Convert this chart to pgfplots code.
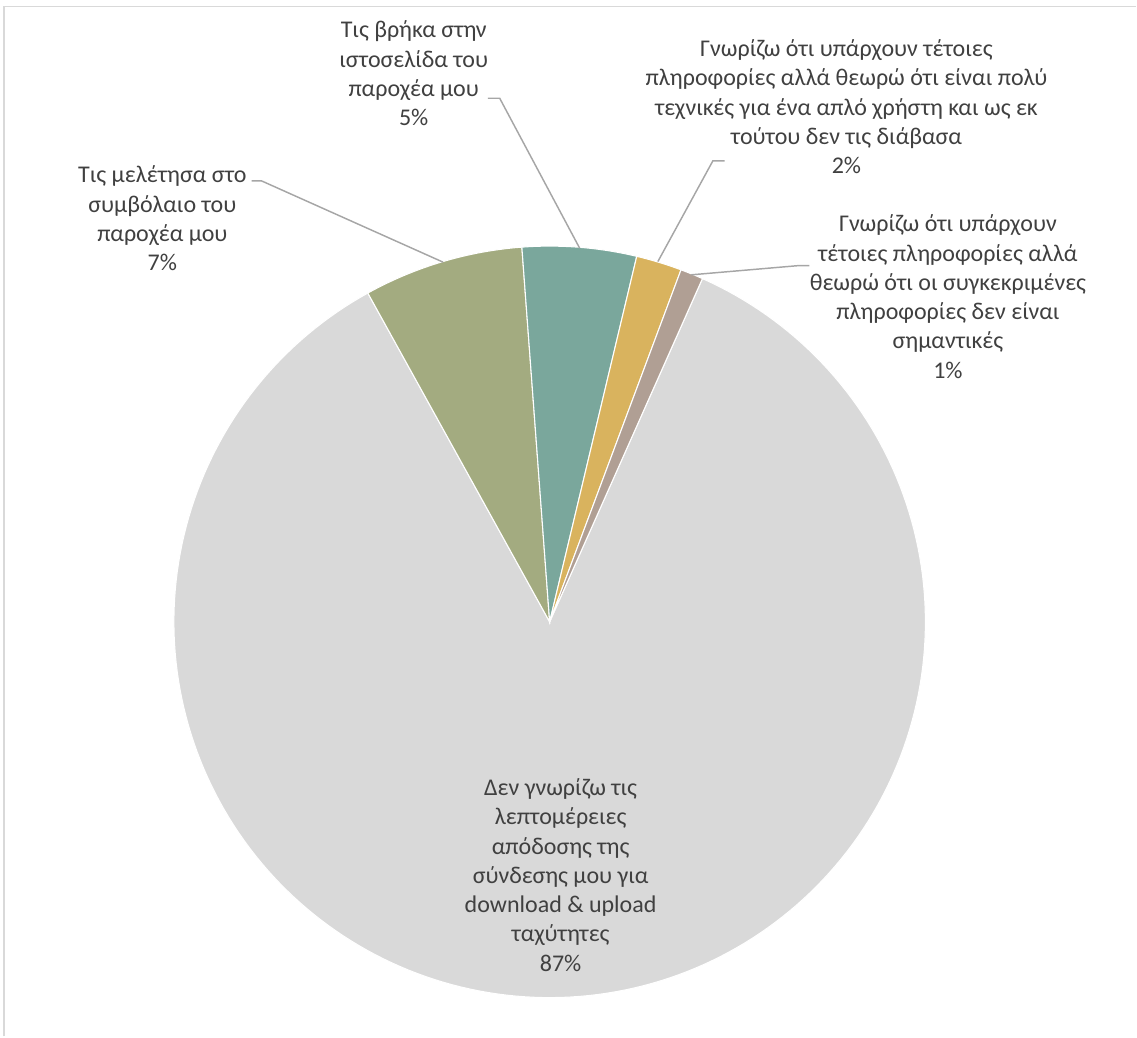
\documentclass[border=0pt]{standalone}
\usepackage{pgfplots}
\pgfplotsset{compat=1.18}
\usepackage{fontspec}
\setmainfont{Carlito}
\definecolor{cGray}{HTML}{D9D9D9}
\definecolor{cOlive}{HTML}{A3AB80}
\definecolor{cTeal}{HTML}{7AA79C}
\definecolor{cYellow}{HTML}{D9B35E}
\definecolor{cBrown}{HTML}{B09F94}
\definecolor{txt}{HTML}{404040}
\definecolor{lead}{HTML}{A6A6A6}
\definecolor{frame}{HTML}{D9D9D9}
\tikzset{lbl/.style={anchor=base, inner sep=0pt, text=txt, font=\fontsize{18}{22}\selectfont}}
% data (percent values as shown in the labels)
\def\vGray{87}\def\vOlive{7}\def\vTeal{5}\def\vYellow{2}\def\vBrown{1}
\pgfmathsetmacro\tot{\vGray+\vOlive+\vTeal+\vYellow+\vBrown}
\pgfmathsetmacro\aA{66}
\pgfmathsetmacro\aB{\aA-\vGray/\tot*360}
\pgfmathsetmacro\aC{\aB-\vOlive/\tot*360}
\pgfmathsetmacro\aD{\aC-\vTeal/\tot*360}
\pgfmathsetmacro\aE{\aD-\vYellow/\tot*360}
\pgfmathsetmacro\aF{\aE-\vBrown/\tot*360}
\def\cx{550}\def\cy{622.25}\def\rr{376}
\begin{document}
\begin{tikzpicture}
\begin{axis}[hide axis, scale only axis, width=852.75pt, height=777.75pt,
  xmin=0, xmax=1137, ymin=0, ymax=1037, y dir=reverse, clip=false]
\path (rel axis cs:0,0) rectangle (rel axis cs:1,1);
% frame
\addplot[frame, line width=1.1pt] coordinates {(4,1037) (4,6.7) (1137,6.7)};
% wedges
\addplot[fill=cGray, draw=white, line width=0.8pt, domain=\aB:\aA, samples=220, variable=\t]
  ({\cx+\rr*cos(\t)},{\cy-\rr*sin(\t)}) -- (axis cs:\cx,\cy) -- cycle;
\addplot[fill=cOlive, draw=white, line width=0.8pt, domain=\aC:\aB, samples=30, variable=\t]
  ({\cx+\rr*cos(\t)},{\cy-\rr*sin(\t)}) -- (axis cs:\cx,\cy) -- cycle;
\addplot[fill=cTeal, draw=white, line width=0.8pt, domain=\aD:\aC, samples=25, variable=\t]
  ({\cx+\rr*cos(\t)},{\cy-\rr*sin(\t)}) -- (axis cs:\cx,\cy) -- cycle;
\addplot[fill=cYellow, draw=white, line width=0.8pt, domain=\aE:\aD, samples=12, variable=\t]
  ({\cx+\rr*cos(\t)},{\cy-\rr*sin(\t)}) -- (axis cs:\cx,\cy) -- cycle;
\addplot[fill=cBrown, draw=white, line width=0.8pt, domain=\aF:\aE, samples=8, variable=\t]
  ({\cx+\rr*cos(\t)},{\cy-\rr*sin(\t)}) -- (axis cs:\cx,\cy) -- cycle;
% leader lines
\addplot[lead, line width=1.1pt] coordinates {(488.3,98.3) (500,98.3) (580,248.3)};
\addplot[lead, line width=1.1pt] coordinates {(725,161) (713.3,161) (658.3,261.7)};
\addplot[lead, line width=1.1pt] coordinates {(810,265.7) (800,265.7) (691.7,275)};
\addplot[lead, line width=1.1pt] coordinates {(251.7,181) (261.7,181) (443.3,262.3)};
% labels
\node[lbl] at (axis cs:414,38) {Τις βρήκα στην};
\node[lbl] at (axis cs:414,67.3) {ιστοσελίδα του};
\node[lbl] at (axis cs:414,96.6) {παροχέα μου};
\node[lbl] at (axis cs:414,125.9) {5\%};
\node[lbl] at (axis cs:847,56.5) {Γνωρίζω ότι υπάρχουν τέτοιες};
\node[lbl] at (axis cs:847,85.8) {πληροφορίες αλλά θεωρώ ότι είναι πολύ};
\node[lbl] at (axis cs:847,115.1) {τεχνικές για ένα απλό χρήστη και ως εκ};
\node[lbl] at (axis cs:847,144.4) {τούτου δεν τις διάβασα};
\node[lbl] at (axis cs:847,173.7) {2\%};
\node[lbl] at (axis cs:948.5,232) {Γνωρίζω ότι υπάρχουν};
\node[lbl] at (axis cs:948.5,261.3) {τέτοιες πληροφορίες αλλά};
\node[lbl] at (axis cs:948.5,290.6) {θεωρώ ότι οι συγκεκριμένες};
\node[lbl] at (axis cs:948.5,319.9) {πληροφορίες δεν είναι};
\node[lbl] at (axis cs:948.5,349.2) {σημαντικές};
\node[lbl] at (axis cs:948.5,378.5) {1\%};
\node[lbl] at (axis cs:162.5,183) {Τις μελέτησα στο};
\node[lbl] at (axis cs:162.5,212.3) {συμβόλαιο του};
\node[lbl] at (axis cs:162.5,241.6) {παροχέα μου};
\node[lbl] at (axis cs:162.5,270.9) {7\%};
\node[lbl] at (axis cs:561,796) {Δεν γνωρίζω τις};
\node[lbl] at (axis cs:561,825.3) {λεπτομέρειες};
\node[lbl] at (axis cs:561,854.6) {απόδοσης της};
\node[lbl] at (axis cs:561,883.9) {σύνδεσης μου για};
\node[lbl] at (axis cs:561,913.2) {download \& upload};
\node[lbl] at (axis cs:561,942.5) {ταχύτητες};
\node[lbl] at (axis cs:561,971.8) {87\%};
\end{axis}
\end{tikzpicture}
\end{document}
